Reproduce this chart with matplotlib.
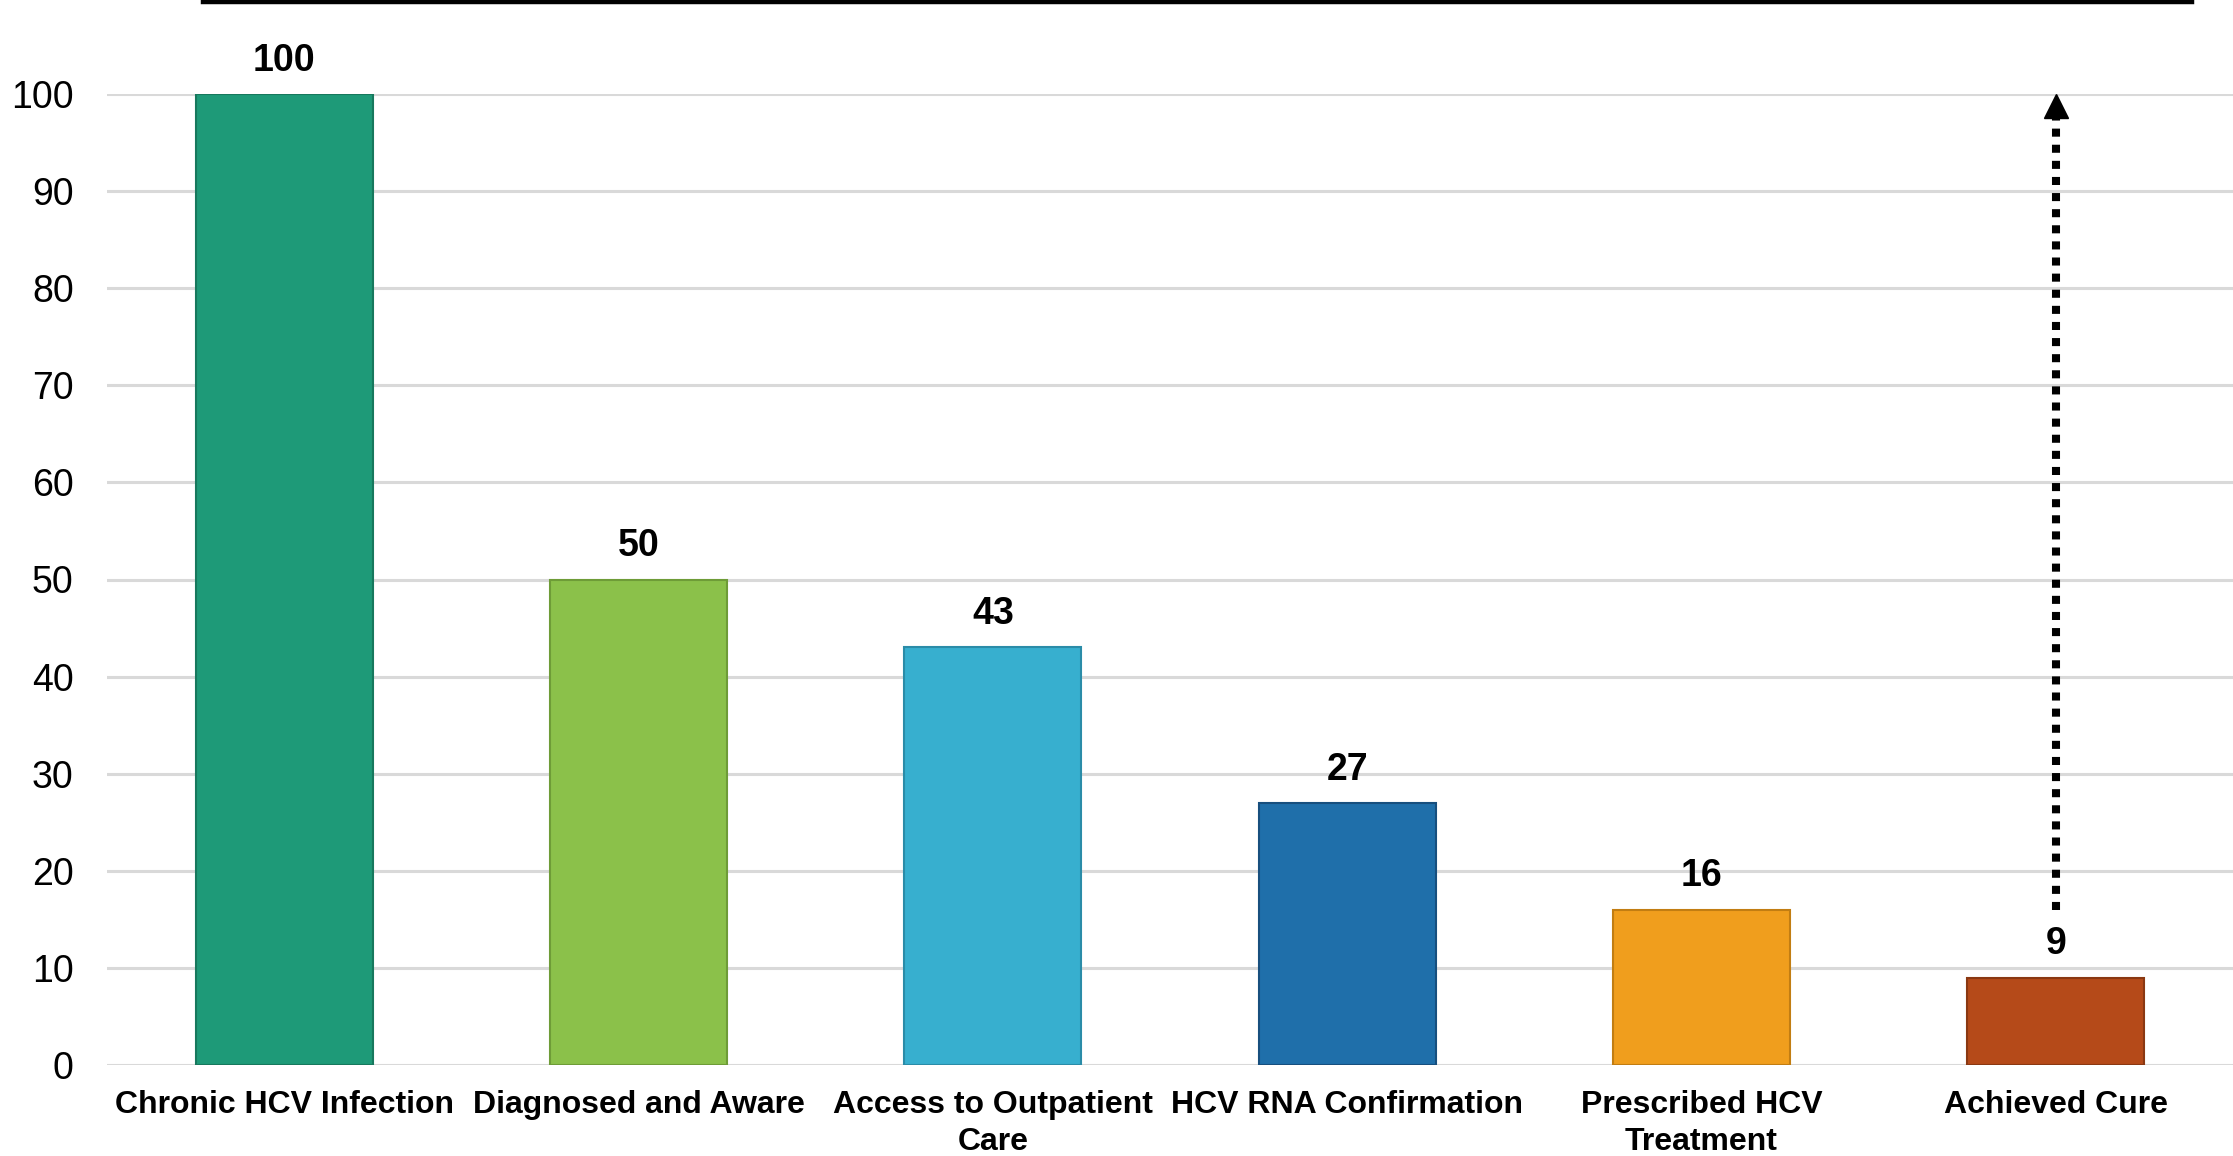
import matplotlib
matplotlib.use("Agg")
import matplotlib.pyplot as plt
from matplotlib.lines import Line2D

categories = ["Chronic HCV Infection", "Diagnosed and Aware", "Access to Outpatient\nCare",
              "HCV RNA Confirmation", "Prescribed HCV\nTreatment", "Achieved Cure"]
values = [100, 50, 43, 27, 16, 9]
bar_colors = ["#1E9A78", "#8BC14A", "#37AFCF", "#1F6FAA", "#F09E1D", "#B54A19"]
edge_colors = ["#17785D", "#6E9C37", "#2A8CA8", "#174F7E", "#C27D12", "#8A3812"]
yticks = [0, 10, 20, 30, 40, 50, 60, 70, 80, 90, 100]
arrow_from, arrow_to = 16, 100

plt.rcParams['font.family'] = ['Liberation Sans', 'DejaVu Sans']

fig = plt.figure(figsize=(22.33, 11.56), dpi=100)
ax = fig.add_axes([107/2233, 1 - 1065/1156, 1 - 107/2233, (1065 - 94)/1156])

x = list(range(len(categories)))
bars = ax.bar(x, values, width=0.5, color=bar_colors, edgecolor=edge_colors, linewidth=1.5, zorder=3)
for xi, v in zip(x, values):
    ax.annotate(str(v), xy=(xi, v), xytext=(0, 11), textcoords="offset points",
                ha="center", va="bottom", fontsize=27, fontweight="bold", color="black")

ax.set_xlim(-0.5, len(categories) - 0.5)
ax.set_ylim(0, 100)
ax.set_yticks(yticks)
ax.set_yticklabels([str(t) for t in yticks], fontsize=27)
ax.set_xticks(x)
ax.set_xticklabels(categories, fontsize=23, fontweight="bold", linespacing=1.3)
ax.tick_params(axis="both", length=0)
ax.tick_params(axis="y", pad=24)
ax.tick_params(axis="x", pad=18)
ax.grid(axis="y", color="#D9D9D9", linewidth=2.2, zorder=0)
ax.set_axisbelow(True)
for s in ax.spines.values():
    s.set_visible(False)

# dotted arrow above last bar
last = len(categories) - 1
ax.plot([last, last], [arrow_from, 97.6], color="black", linewidth=5.8,
        linestyle=(0, (1, 1)), dash_capstyle="butt", zorder=4, clip_on=False)
ax.plot([last], [98.8], marker="^", markersize=17, color="black", zorder=4, clip_on=False)

# top black rule
fig.add_artist(Line2D([203/2233, 2192/2233], [1 - 2/1156, 1 - 2/1156], color="black", linewidth=3.2))

fig.savefig("out.png", dpi=100)
